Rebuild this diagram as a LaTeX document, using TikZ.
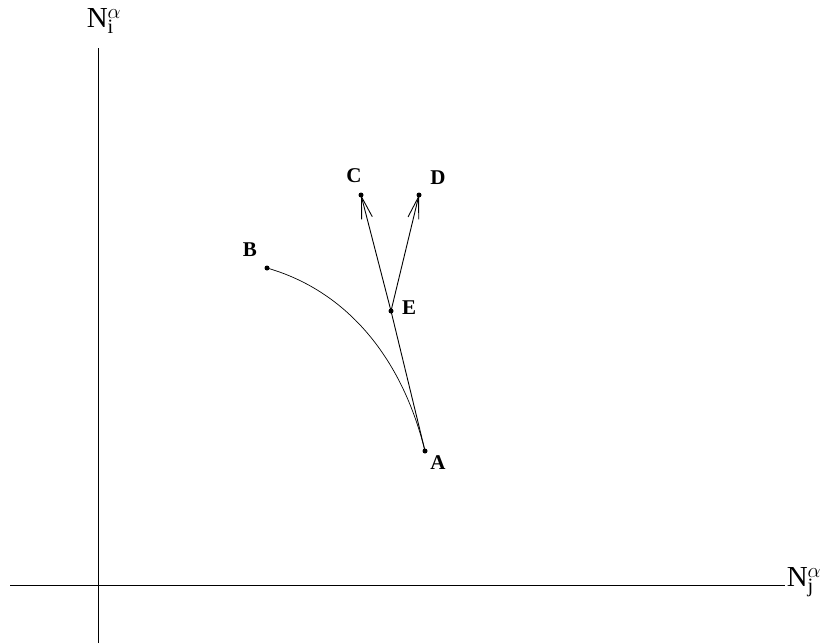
\documentclass[tikz,border=0pt]{standalone}
\usepackage{fontspec}
\setmainfont{Liberation Serif}
\usetikzlibrary{arrows.meta}
\begin{document}
\begin{tikzpicture}[x=1pt,y=-1pt,
  pt/.style={circle,fill=black,inner sep=0pt,minimum size=5pt},
  lbl/.style={font=\fontsize{21}{21}\selectfont\bfseries,inner sep=0pt},
  axlbl/.style={font=\fontsize{29}{29}\selectfont,inner sep=0pt},
  ln/.style={line width=0.9pt},
  arr/.style={ln,-{Straight Barb[length=22pt,width=11pt,line width=0.9pt]}}]
\useasboundingbox (0,0) rectangle (825,643);
% axes
\coordinate (ytop) at (98,48);
\coordinate (ybot) at (98,643);
\coordinate (xl) at (10,585);
\coordinate (xr) at (785,585);
\draw[ln] (ybot) -- (ytop);
\draw[ln] (xl) -- (xr);
\node[axlbl] (Ni) at (104,21) {N$_{\mathrm{i}}^{\alpha}$};
\node[axlbl] (Nj) at (804,582) {N$_{\mathrm{j}}^{\alpha}$};
% points
\node[pt] (A) at (425,451) {};
\node[pt] (B) at (267,268) {};
\node[pt] (C) at (361,195) {};
\node[pt] (D) at (419,195) {};
\node[pt] (E) at (391,311) {};
% labels
\node[lbl] (lA) at (438,463) {A};
\node[lbl] (lB) at (250,250) {B};
\node[lbl] (lC) at (354,176) {C};
\node[lbl] (lD) at (438,178) {D};
\node[lbl] (lE) at (409,308) {E};
% lines
\draw[ln] (A.center) -- (E.center);
\draw[arr] (E.center) -- (C.center);
\draw[arr] (E.center) -- (D.center);
\draw[line width=0.7pt] (B.center) .. controls (344,290) and (401,354) .. (A.center);
\end{tikzpicture}
\end{document}
